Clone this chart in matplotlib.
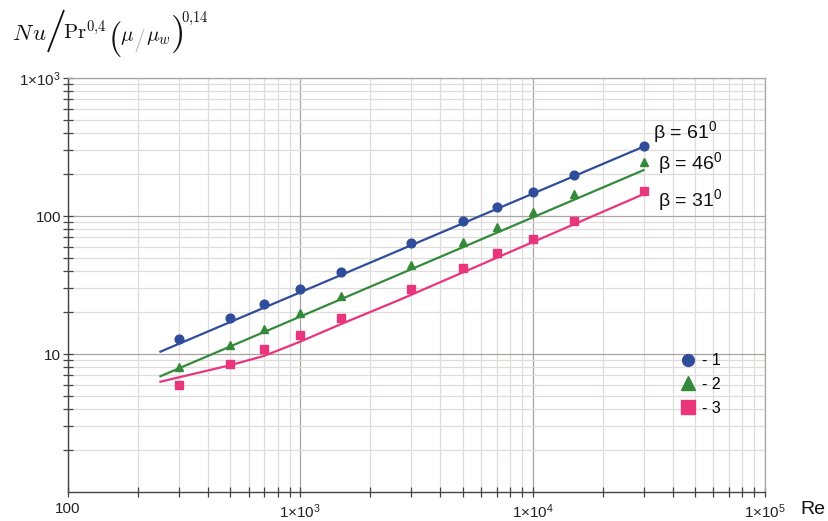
import matplotlib
matplotlib.use("Agg")
import matplotlib.pyplot as plt
from matplotlib.ticker import LogLocator, FixedLocator, FixedFormatter, NullFormatter
from matplotlib.lines import Line2D

plt.rcParams['font.family'] = ['Liberation Sans', 'DejaVu Sans']
plt.rcParams['mathtext.fontset'] = 'custom'
plt.rcParams['mathtext.rm'] = 'Liberation Sans'
plt.rcParams['mathtext.it'] = 'Liberation Sans:italic'

# Measured points
re_pts = [300, 500, 700, 1000, 1500, 3000, 5000, 7000, 10000, 15000, 30000]
nu_61 = [12.8, 18.3, 22.9, 29.6, 39.5, 64, 92.5, 116, 149, 198, 323]
nu_46 = [8.1, 11.6, 15.1, 19.7, 26.3, 44, 65, 83, 107, 144, 245]
nu_31 = [5.96, 8.4, 10.8, 13.8, 18.3, 29.6, 41.8, 53.7, 68, 92, 152]

# Correlation curves
re_fit_61 = [250, 30000]
nu_fit_61 = [10.4, 318]
re_fit_46 = [250, 30000]
nu_fit_46 = [6.9, 215]
re_fit_31 = [250, 500, 700, 1000, 1500, 2660, 30000]
nu_fit_31 = [6.3, 8.3, 9.7, 12.3, 16.5, 24.6, 144]

x_ticks = [100, 1000, 10000, 100000]
x_labels = ['100', r'1×10$^{3}$', r'1×10$^{4}$', r'1×10$^{5}$']
y_ticks = [10, 100, 1000]
y_labels = ['10', '100', r'1×10$^{3}$']

beta_labels = [r'β = 61$^{0}$', r'β = 46$^{0}$', r'β = 31$^{0}$']
legend_labels = ['- 1', '- 2', '- 3']

c_blue = '#2f4d9a'
c_green = '#358a3a'
c_pink = '#e8357c'

W, H = 829, 521
fig = plt.figure(figsize=(W / 100, H / 100), dpi=100)
ax = fig.add_axes([68 / W, 1 - 492 / H, (765 - 68) / W, (492 - 78) / H])

ax.set_xscale('log')
ax.set_yscale('log')
ax.set_xlim(100, 100000)
ax.set_ylim(1, 1000)

ax.grid(True, which='major', color='#a8a4a4', linewidth=0.9)
ax.grid(True, which='minor', color='#e0dcdc', linewidth=0.9)
ax.set_axisbelow(True)

ax.plot(re_fit_61, nu_fit_61, color=c_blue, lw=1.6, zorder=3)
ax.plot(re_fit_46, nu_fit_46, color=c_green, lw=1.6, zorder=3)
ax.plot(re_fit_31, nu_fit_31, color=c_pink, lw=1.6, zorder=3)

ax.plot(re_pts, nu_61, 'o', color=c_blue, ms=6.3, zorder=4)
ax.plot(re_pts, nu_46, '^', color=c_green, ms=6.0, zorder=4)
ax.plot(re_pts, nu_31, 's', color=c_pink, ms=5.3, zorder=4)

ax.xaxis.set_major_locator(FixedLocator(x_ticks))
ax.xaxis.set_major_formatter(FixedFormatter(x_labels))
ax.xaxis.set_minor_locator(LogLocator(base=10, subs=range(2, 10)))
ax.xaxis.set_minor_formatter(NullFormatter())
ax.yaxis.set_major_locator(FixedLocator(y_ticks))
ax.yaxis.set_major_formatter(FixedFormatter(y_labels))
ax.yaxis.set_minor_locator(LogLocator(base=10, subs=range(2, 10)))
ax.yaxis.set_minor_formatter(NullFormatter())

ax.tick_params(which='both', direction='inout', length=7, width=0.9, color='#444444',
               labelsize=11, labelcolor='#222222')
ax.tick_params(axis='x', pad=4)
ax.tick_params(axis='y', pad=1.5)

for side in ('left', 'bottom'):
    ax.spines[side].set_color('#444444')
    ax.spines[side].set_linewidth(1.0)
for side in ('top', 'right'):
    ax.spines[side].set_color('#a8a4a4')
    ax.spines[side].set_linewidth(0.9)

# Inclination-angle labels at the right end of each curve
ax.text(33000, 406, beta_labels[0], fontsize=14, color='#111111', va='center', ha='left')
ax.text(34700, 242, beta_labels[1], fontsize=14, color='#111111', va='center', ha='left')
ax.text(34700, 131, beta_labels[2], fontsize=14, color='#111111', va='center', ha='left')

handles = [
    Line2D([], [], ls='none', marker='o', color=c_blue, ms=8.5),
    Line2D([], [], ls='none', marker='^', color=c_green, ms=10.5),
    Line2D([], [], ls='none', marker='s', color=c_pink, ms=9.5),
]
ax.legend(handles, legend_labels, loc='upper left', bbox_to_anchor=(0.858, 0.37),
          frameon=False, fontsize=11.5, handlelength=1.0, handletextpad=0.35,
          labelspacing=0.55)

fig.text(800 / W, 1 - 509 / H, 'Re', fontsize=14, color='#111111', va='center', ha='left')


def put(px, py, s, size, color='#111111', va='baseline'):
    fig.text(px / W, 1 - py / H, s, fontsize=size, color=color, va=va, ha='left',
             math_fontfamily='cm')


def stroke(x0, y0, x1, y1, color='#111111', lw=1.2):
    fig.add_artist(Line2D([x0 / W, x1 / W], [1 - y0 / H, 1 - y1 / H],
                          transform=fig.transFigure, color=color, lw=lw,
                          solid_capstyle='butt'))


# Ordinate quantity: Nu / Pr^0.4 (mu/mu_w)^0.14, built piece by piece
put(12, 39.5, r'$N\!\;u$', 16.5)
stroke(48, 52, 64, 10, lw=1.3)
put(63, 39.5, r'$\mathrm{Pr}^{0{,}4}$', 15)
put(108, 39, r'$($', 25, va='center')
put(120, 41, r'$\mu$', 15)
stroke(136, 52, 144, 29, color='#c4c4c4', lw=0.9)
put(146, 41, r'$\mu_w$', 15)
put(170, 34, r'$)$', 27, va='center')
put(181, 21.5, r'$0{,}14$', 10.5)

fig.savefig('out.png', dpi=100)
